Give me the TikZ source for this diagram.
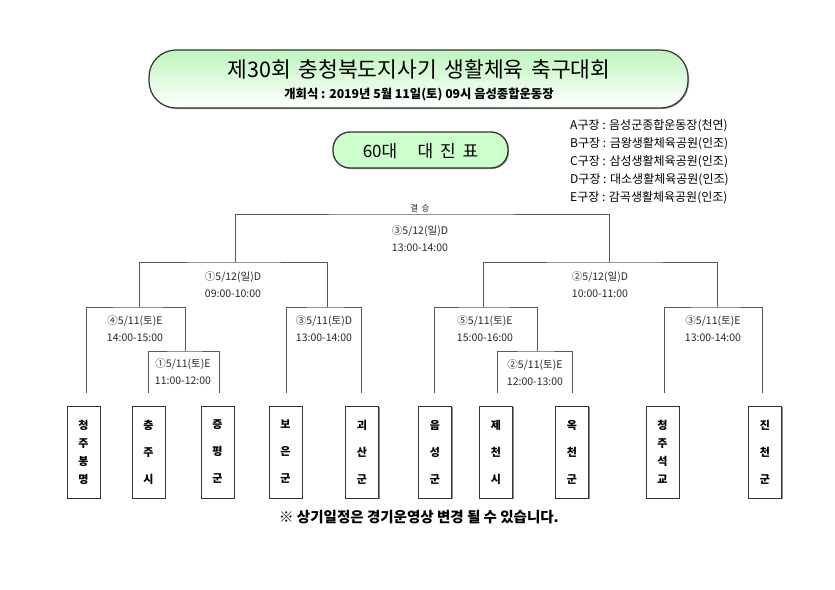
\documentclass[tikz,border=0pt]{standalone}
\usepackage{fontspec}
\setmainfont{Noto Sans CJK KR}
\usetikzlibrary{shadows}
\definecolor{lgreen}{RGB}{204,255,204}
\definecolor{tgreen}{RGB}{190,245,190}
\definecolor{linegray}{RGB}{90,90,90}
\definecolor{txtgray}{RGB}{40,40,40}
\begin{document}
\begin{tikzpicture}[x=1pt,y=-1pt,
  bline/.style={draw=linegray,line width=0.9pt},
  blabel/.style={align=center,text=txtgray,font=\fontsize{10.5}{17}\selectfont,inner sep=0pt},
  namebox/.style={draw=black!80,line width=0.9pt,fill=white,minimum width=33pt,minimum height=92pt,inner sep=0pt,align=center,
    drop shadow={shadow xshift=1.2pt,shadow yshift=-1.2pt,fill=black!45,opacity=1}},
  name4/.style={namebox,font=\bfseries\fontsize{11}{18}\selectfont},
  name3/.style={namebox,font=\bfseries\fontsize{11}{27}\selectfont},
  legend/.style={anchor=west,inner sep=0pt,font=\fontsize{12}{14}\selectfont},
]
\useasboundingbox (0,0) rectangle (835,589);

% title box
\node[draw=black!80,line width=1.2pt,rounded corners=27pt,minimum width=539pt,minimum height=58pt,
  top color=tgreen,bottom color=white,
  drop shadow={shadow xshift=1pt,shadow yshift=-1pt,fill=black!40,opacity=1}] (titlebox) at (418.5,79) {};
\node[inner sep=0pt,font=\fontsize{21.5}{24}\selectfont] (title) at (419,69) {제30회\hspace{0.35em}충청북도지사기\hspace{0.35em}생활체육\hspace{0.35em}축구대회};
\node[inner sep=0pt,font=\bfseries\fontsize{12.3}{14}\selectfont] (subtitle) at (419,95) {개회식 : 2019년 5월 11일(토) 09시 음성종합운동장};

% 60대 box
\node[draw=black!80,line width=1.3pt,rounded corners=17pt,minimum width=175pt,minimum height=36pt,fill=lgreen,
  drop shadow={shadow xshift=1pt,shadow yshift=-1pt,fill=black!40,opacity=1}] (agebox) at (420.5,150) {};
\node[inner sep=0pt,font=\fontsize{17}{20}\selectfont] (agetitle) at (420.5,151) {60대\hspace{1.2em}대\hspace{0.4em}진\hspace{0.4em}표};

% legend
\node[legend] (lgA) at (570,126) {A구장 : 음성군종합운동장(천연)};
\node[legend] (lgB) at (570,144) {B구장 : 금왕생활체육공원(인조)};
\node[legend] (lgC) at (570,162) {C구장 : 삼성생활체육공원(인조)};
\node[legend] (lgD) at (570,180) {D구장 : 대소생활체육공원(인조)};
\node[legend] (lgE) at (570,198) {E구장 : 감곡생활체육공원(인조)};

% bracket coordinates
\coordinate (e1) at (86,393);
\coordinate (e2) at (148,393);
\coordinate (e3) at (219,393);
\coordinate (e4) at (286,393);
\coordinate (e5) at (361,393);
\coordinate (e6) at (434,393);
\coordinate (e7) at (497,393);
\coordinate (e8) at (572,393);
\coordinate (e9) at (664,393);
\coordinate (e10) at (762,393);
\coordinate (s1) at (185,351);
\coordinate (s2) at (537,351);
\coordinate (q1) at (139,307);
\coordinate (q2) at (327,307);
\coordinate (q3) at (483,307);
\coordinate (q4) at (717,307);
\coordinate (m1) at (235,262);
\coordinate (m2) at (609,262);
\coordinate (fin) at (420,214);

\draw[bline] (e2) |- (s1) -| (e3);
\draw[bline] (e1) |- (q1) -| (s1);
\draw[bline] (e4) |- (q2) -| (e5);
\draw[bline] (e7) |- (s2) -| (e8);
\draw[bline] (e6) |- (q3) -| (s2);
\draw[bline] (e9) |- (q4) -| (e10);
\draw[bline] (q1) |- (m1) -| (q2);
\draw[bline] (q3) |- (m2) -| (q4);
\draw[bline] (m1) |- (fin) -| (m2);

% bracket labels
\node[blabel,font=\fontsize{8.5}{10}\selectfont] (final) at (420,208) {결\hspace{0.4em}승};
\node[blabel] (lf) at (420,238.5) {③5/12(일)D\\13:00-14:00};
\node[blabel] (ls1) at (233,284.5) {①5/12(일)D\\09:00-10:00};
\node[blabel] (ls2) at (600,284.5) {②5/12(일)D\\10:00-11:00};
\node[blabel] (lq1) at (135,328.5) {④5/11(토)E\\14:00-15:00};
\node[blabel] (lu1) at (183,372) {①5/11(토)E\\11:00-12:00};
\node[blabel] (lq2) at (324,328.5) {③5/11(토)D\\13:00-14:00};
\node[blabel] (lq3) at (485,328.5) {⑤5/11(토)E\\15:00-16:00};
\node[blabel] (lu2) at (535,372.5) {②5/11(토)E\\12:00-13:00};
\node[blabel] (lq4) at (713,329) {③5/11(토)E\\13:00-14:00};

% team boxes
\node[name4] (n1) at (83.5,452) {청\\주\\봉\\명};
\node[name3] (n2) at (148.5,452) {충\\주\\시};
\node[name3] (n3) at (217.5,452) {증\\평\\군};
\node[name3] (n4) at (285.5,452) {보\\은\\군};
\node[name3] (n5) at (362,452) {괴\\산\\군};
\node[name3] (n6) at (435,452) {음\\성\\군};
\node[name3] (n7) at (496,452) {제\\천\\시};
\node[name3] (n8) at (572,452) {옥\\천\\군};
\node[name4] (n9) at (662.5,452) {청\\주\\석\\교};
\node[name3] (n10) at (765,452) {진\\천\\군};

% footer
\node[inner sep=0pt,font=\bfseries\fontsize{14.5}{16}\selectfont] (note) at (419,517) {※ 상기일정은 경기운영상 변경 될 수 있습니다.};
\end{tikzpicture}
\end{document}
